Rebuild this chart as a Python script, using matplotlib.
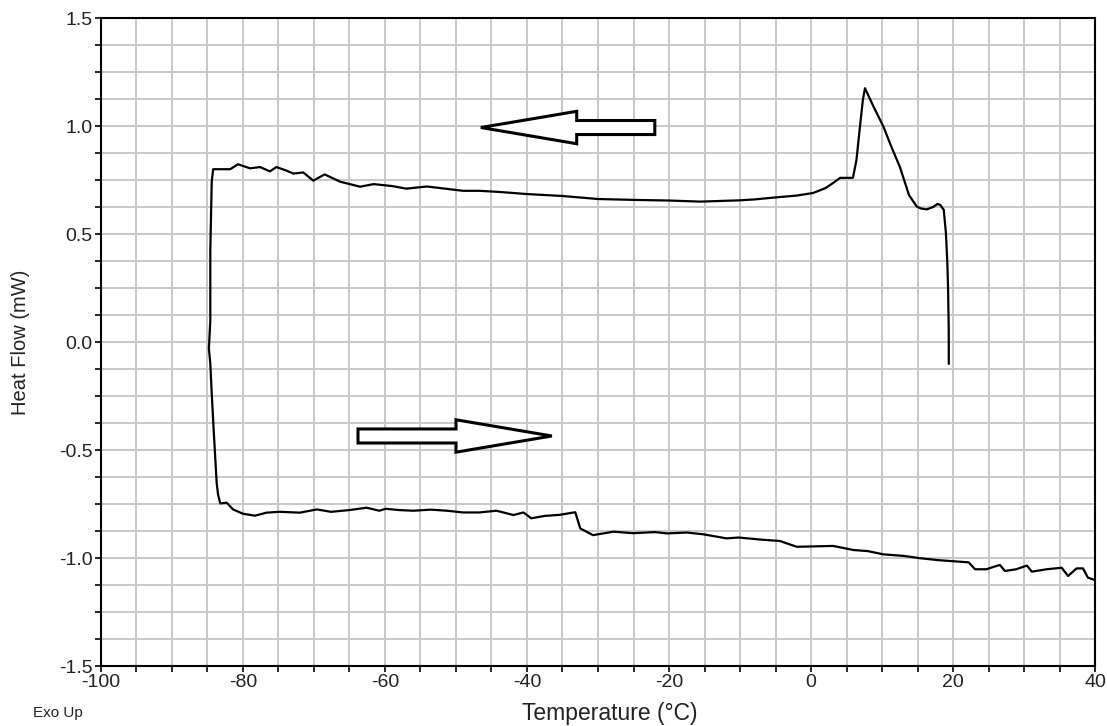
import matplotlib
matplotlib.use("Agg")
import matplotlib.pyplot as plt
from matplotlib.ticker import MultipleLocator

plt.rcParams["font.family"] = ["Liberation Sans", "DejaVu Sans"]

# DSC trace: cooling from ~20 C down to -85 C (top),
# then heating back up to 40 C (bottom). One continuous curve.
temp = [19.4, 19.4, 19.3, 19.2, 19.0, 18.7, 18.2, 17.8, 17.2, 16.3, 15.5, 14.9,
        13.8, 12.5, 11.3, 10.2, 8.8, 7.6, 7.3, 6.9, 6.4, 5.9, 5.5, 4.1,
        3.1, 2.0, 0.3, -2.0, -4.8, -8.0, -10.0, -15.6, -20.0, -25.0, -30.0,
        -35.0, -40.0, -44.0, -46.7, -49.0, -52.0, -54.1, -57.0, -59.0, -61.6,
        -63.5, -66.3, -68.5, -70.1, -71.5, -72.9, -74.0, -75.3, -76.2, -77.6,
        -79.0, -80.7, -81.8, -84.2, -84.4, -84.6, -84.6, -84.8, -84.6, -84.4,
        -84.1, -83.7, -83.5, -83.2, -82.3, -81.4, -80.0, -78.3, -76.7, -74.8,
        -72.0, -69.6, -67.6, -65.0, -62.6, -60.8, -59.9, -58.0, -56.0, -53.5,
        -51.3, -49.0, -46.7, -44.3, -41.9, -40.5, -39.4, -37.5, -35.4, -33.2,
        -32.5, -30.7, -27.8, -25.1, -22.0, -20.3, -17.5, -15.2, -11.9, -10.2,
        -7.0, -4.4, -2.0, 0.5, 3.1, 6.0, 8.0, 10.2, 13.0, 15.4, 18.0, 20.5,
        22.2, 23.1, 24.7, 25.8, 26.6, 27.3, 28.9, 30.4, 31.1, 33.2, 35.3, 36.2,
        37.4, 38.3, 39.0, 39.8]
heat = [-0.10, 0.05, 0.25, 0.364, 0.503, 0.611, 0.635, 0.639, 0.625, 0.614,
        0.618, 0.627, 0.680, 0.812, 0.905, 0.997, 1.090, 1.175, 1.120, 1.000,
        0.843, 0.760, 0.760, 0.760, 0.736, 0.712, 0.690, 0.678, 0.670, 0.660,
        0.656, 0.650, 0.655, 0.658, 0.662, 0.676, 0.685, 0.695, 0.700, 0.700,
        0.712, 0.720, 0.710, 0.722, 0.731, 0.719, 0.742, 0.776, 0.747, 0.785,
        0.780, 0.795, 0.810, 0.790, 0.810, 0.804, 0.823, 0.800, 0.800, 0.742,
        0.426, 0.10, -0.03, -0.10, -0.238, -0.423, -0.654, -0.708, -0.747, -0.744,
        -0.775, -0.795, -0.804, -0.790, -0.786, -0.790, -0.775, -0.786, -0.778,
        -0.767, -0.781, -0.772, -0.778, -0.781, -0.776, -0.781, -0.789, -0.789,
        -0.781, -0.801, -0.789, -0.816, -0.805, -0.800, -0.788, -0.863, -0.894,
        -0.878, -0.885, -0.880, -0.886, -0.882, -0.890, -0.909, -0.905, -0.915,
        -0.921, -0.948, -0.946, -0.944, -0.963, -0.968, -0.983, -0.990, -1.001,
        -1.010, -1.016, -1.020, -1.052, -1.052, -1.040, -1.032, -1.060, -1.052,
        -1.035, -1.063, -1.052, -1.045, -1.083, -1.048, -1.048, -1.091, -1.100]

# direction arrows: (tail x, y, length) -- cooling to the left, heating to the right
arrow_cool = (-22.0, 0.993, -24.5)
arrow_heat = (-63.8, -0.435, 27.3)

fig = plt.figure(figsize=(11.07, 7.26), dpi=100)
ax = fig.add_axes([0.0912, 0.0826, 0.898, 0.8926])

ax.plot(temp, heat, color="black", lw=1.6, zorder=3)

for x0, y0, dx in (arrow_cool, arrow_heat):
    ax.arrow(x0, y0, dx, 0, width=0.065, head_width=0.15, head_length=13.5,
             length_includes_head=True, fc="white", ec="black", lw=2.2,
             joinstyle="miter", zorder=4)

ax.set_xlim(-100, 40)
ax.set_ylim(-1.5, 1.5)
ax.xaxis.set_major_locator(MultipleLocator(20))
ax.xaxis.set_minor_locator(MultipleLocator(5))
ax.yaxis.set_major_locator(MultipleLocator(0.5))
ax.yaxis.set_minor_locator(MultipleLocator(0.125))
ax.xaxis.set_major_formatter(lambda v, p: f"{v:.0f}")
ax.yaxis.set_major_formatter(lambda v, p: f"{v:.1f}")

ax.grid(which="both", color="#c8c8c8", lw=1.4)
ax.set_axisbelow(True)
ax.tick_params(which="both", direction="out", length=4, width=1.2,
               labelsize=14, color="black", labelcolor="#222222", pad=2)
for s in ax.spines.values():
    s.set_linewidth(1.5)

ax.set_xlabel("Temperature (°C)", fontsize=16.5, color="#222222", labelpad=8)
ax.xaxis.set_label_coords(0.512, -0.055)
ax.set_ylabel("Heat Flow (mW)", fontsize=14.5, color="#222222", labelpad=21)
fig.text(0.030, 0.012, "Exo Up", fontsize=11, color="#222222")

fig.savefig("out.png", dpi=100)
